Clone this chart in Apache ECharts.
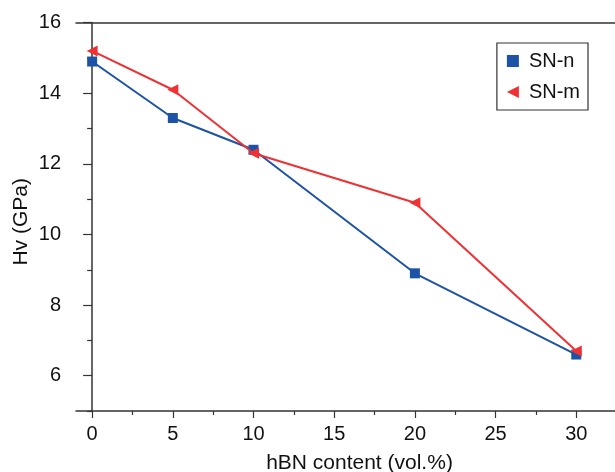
<!DOCTYPE html>
<html><head><meta charset="utf-8">
<script src="https://cdn.jsdelivr.net/npm/echarts@6/dist/echarts.min.js"></script>
<style>html,body{margin:0;padding:0;background:#fff}#c{width:615px;height:472px}</style>
</head><body><div id="c"></div>
<script>
const xValues = [0, 5, 10, 20, 30];
const snN = [14.9, 13.3, 12.4, 8.9, 6.6];
const snM = [15.2, 14.1, 12.3, 10.9, 6.7];
const xMajorTicks = [0, 5, 10, 15, 20, 25, 30];
const xMinorTicks = [2.5, 7.5, 12.5, 17.5, 22.5, 27.5, 32.5];
const yMajorTicks = [6, 8, 10, 12, 14, 16];
const yMinorTicks = [5, 7, 9, 11, 13, 15];
const seriesNames = ['SN-n', 'SN-m'];
const xTitle = 'hBN content (vol.%)';
const yTitle = 'Hv (GPa)';

const BLUE = '#1c53a6', RED = '#ef3134', AX = '#333';
const FONT = 'Liberation Sans, Arial, sans-serif';
const triLeft = 'path://M0,5 L10,0 L10,10 Z';
const XMIN = -1, XMAX = 32.4, YMIN = 5, YMAX = 16;

const chart = echarts.init(document.getElementById('c'), null, {renderer: 'canvas'});
const axLine = {show: true, lineStyle: {color: AX, width: 1.5}};
chart.setOption({
  animation: false,
  grid: {left: 76, right: 0, top: 22.7, bottom: 61, containLabel: false, outerBoundsMode: 'none'},
  legend: {
    right: 27, top: 43, orient: 'vertical',
    itemWidth: 12, itemHeight: 12, itemGap: 11,
    padding: [8, 8, 8, 10],
    borderColor: AX, borderWidth: 1.2,
    textStyle: {fontFamily: FONT, fontSize: 20, color: '#111', padding: [0, 0, 0, 5]},
    data: [{name: seriesNames[0], icon: 'rect'}, {name: seriesNames[1], icon: triLeft}]
  },
  xAxis: [
    {type: 'value', min: XMIN, max: XMAX, position: 'bottom',
     axisLine: axLine, splitLine: {show: false},
     axisTick: {show: true, length: 7, inside: false, customValues: xMajorTicks, lineStyle: {color: AX, width: 1.2}},
     axisLabel: {customValues: xMajorTicks, fontFamily: FONT, fontSize: 20, color: '#111', margin: 13},
     name: xTitle, nameLocation: 'middle', nameGap: 42, nameMoveOverlap: false,
     nameTextStyle: {fontFamily: FONT, fontSize: 21, color: '#111', padding: [0, 0, 0, 28]}},
    {type: 'value', min: XMIN, max: XMAX, position: 'bottom',
     axisLine: {show: false}, splitLine: {show: false},
     axisTick: {show: true, length: 4, customValues: xMinorTicks, lineStyle: {color: AX, width: 1.2}},
     axisLabel: {show: false}},
    {type: 'value', min: XMIN, max: XMAX, position: 'top',
     axisLine: axLine, splitLine: {show: false},
     axisTick: {show: false}, axisLabel: {show: false}}
  ],
  yAxis: [
    {type: 'value', min: YMIN, max: YMAX, position: 'left',
     axisLine: axLine, splitLine: {show: false},
     axisTick: {show: true, length: 9, customValues: yMajorTicks, lineStyle: {color: AX, width: 1.2}},
     axisLabel: {customValues: yMajorTicks, fontFamily: FONT, fontSize: 20, color: '#111', margin: 15},
     name: yTitle, nameLocation: 'middle', nameGap: 44, nameRotate: 90, nameMoveOverlap: false,
     nameTextStyle: {fontFamily: FONT, fontSize: 21, color: '#111', padding: [0, 10, 0, 0]}},
    {type: 'value', min: YMIN, max: YMAX, position: 'left',
     axisLine: {show: false}, splitLine: {show: false},
     axisTick: {show: true, length: 5, customValues: yMinorTicks, lineStyle: {color: AX, width: 1.2}},
     axisLabel: {show: false}}
  ],
  series: [
    {name: seriesNames[0], type: 'line', xAxisIndex: 0, yAxisIndex: 0,
     data: xValues.map((x, i) => [x, snN[i]]),
     symbol: 'rect', symbolSize: 10,
     lineStyle: {color: BLUE, width: 2}, itemStyle: {color: BLUE}, z: 2},
    {name: seriesNames[1], type: 'line', xAxisIndex: 0, yAxisIndex: 0,
     data: xValues.map((x, i) => [x, snM[i]]),
     symbol: triLeft, symbolSize: 11,
     lineStyle: {color: RED, width: 2}, itemStyle: {color: RED}, z: 3}
  ]
});
</script></body></html>
